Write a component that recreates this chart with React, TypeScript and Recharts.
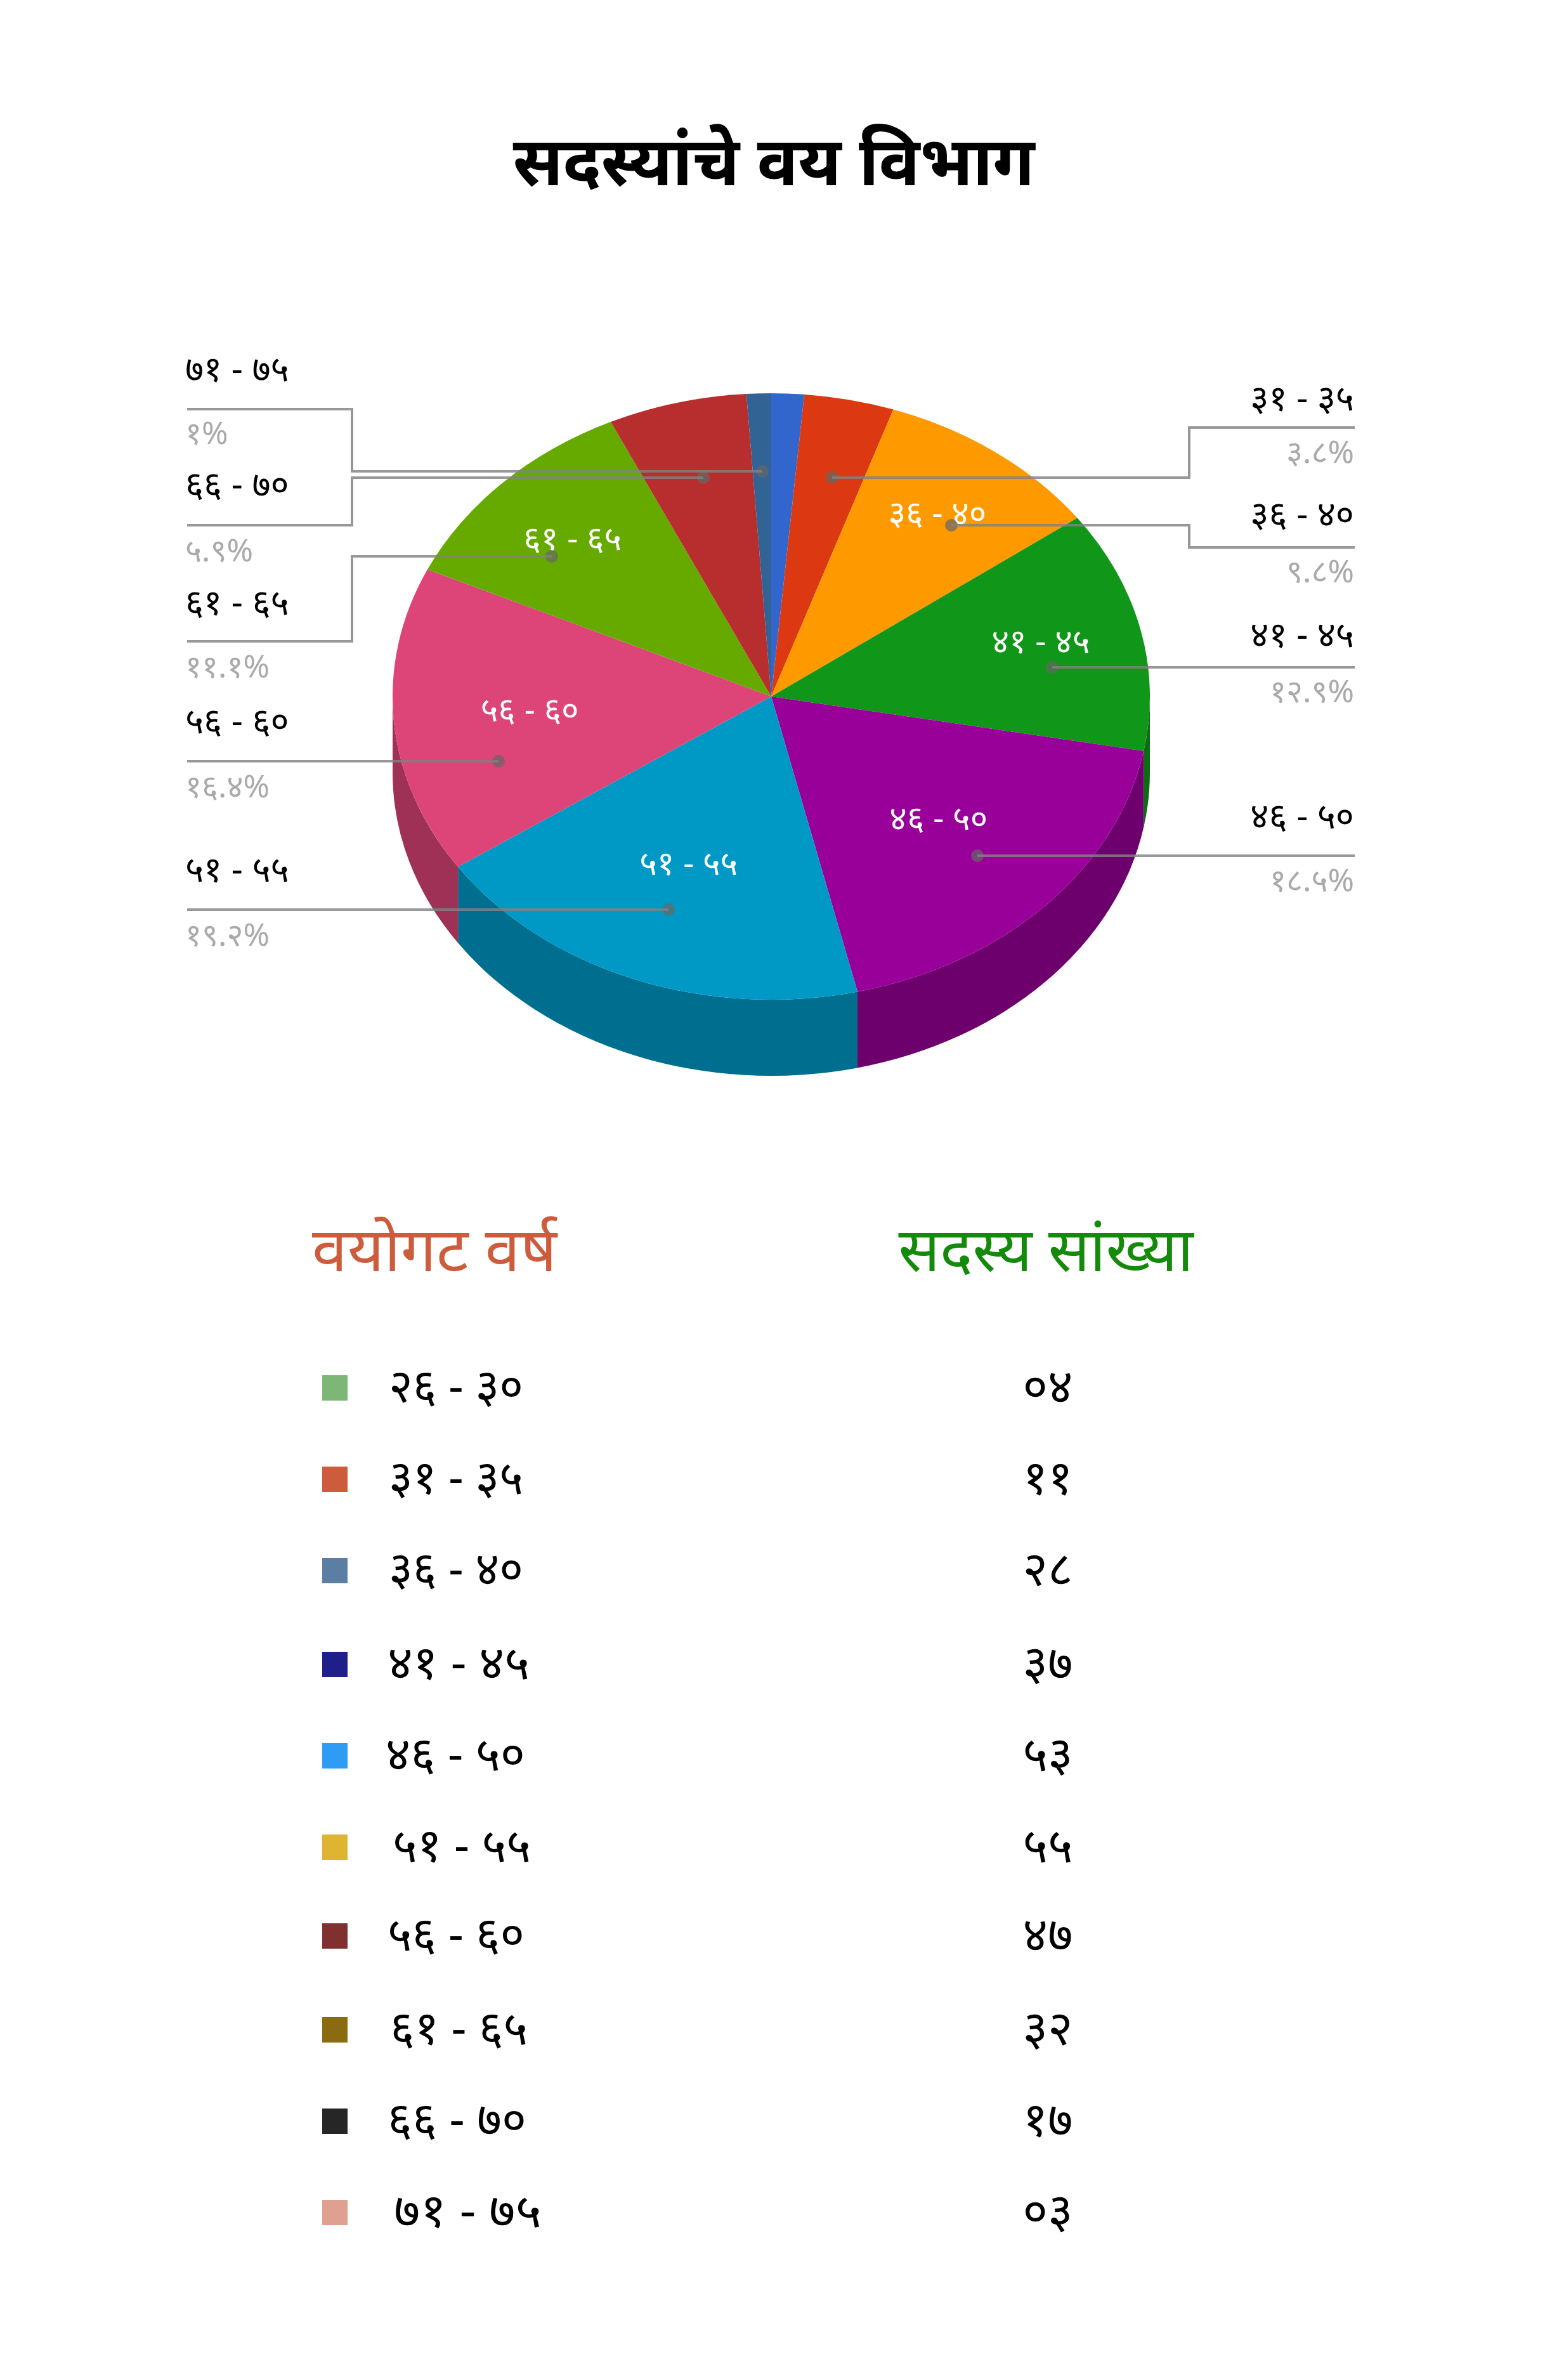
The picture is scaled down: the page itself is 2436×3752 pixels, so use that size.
import { PieChart, Pie, Cell } from 'recharts';

const W = 2436;
const H = 3752;

const ageGroups = ['२६ - ३०', '३१ - ३५', '३६ - ४०', '४१ - ४५', '४६ - ५०', '५१ - ५५', '५६ - ६०', '६१ - ६५', '६६ - ७०', '७१ - ७५'];
const memberCounts = [4, 11, 28, 37, 53, 55, 47, 32, 17, 3];
const countLabels = ['०४', '११', '२८', '३७', '५३', '५५', '४७', '३२', '१७', '०३'];
const sliceColors = ['#3366cc', '#dc3912', '#ff9900', '#109618', '#990099', '#0099c6', '#dd4477', '#66aa00', '#b82e2e', '#316395'];
const swatchColors = ['#7cb776', '#cc5c3c', '#5b7fa3', '#1f1f8a', '#2e9bf5', '#deb433', '#80312f', '#8a6b0f', '#262626', '#dfa08f'];

const pieData = ageGroups.map((name, i) => ({ name, value: memberCounts[i] }));

const CX = 1216;
const CY = 1098;
const RX = 597;
const RY = 478;
const DEPTH = 120;

const darken = (hex: string, f = 0.72) => {
  const n = parseInt(hex.slice(1), 16);
  const c = [(n >> 16) & 255, (n >> 8) & 255, n & 255].map(v => Math.round(v * f));
  return `rgb(${c.join(',')})`;
};

const ex = (deg: number) => CX + RX * Math.cos((deg * Math.PI) / 180);
const ey = (deg: number) => CY - RY * Math.sin((deg * Math.PI) / 180);

// flattened slice with its side wall
function TiltedSlice(props: any) {
  const { startAngle, endAngle, fill } = props;
  const a0 = Math.max(startAngle, endAngle);
  const a1 = Math.min(startAngle, endAngle);
  const large = a0 - a1 > 180 ? 1 : 0;
  const top = `M${CX},${CY}L${ex(a0)},${ey(a0)}A${RX},${RY} 0 ${large} 1 ${ex(a1)},${ey(a1)}Z`;
  // wall only for the front half of the rim
  const walls: string[] = [];
  [[0, -180], [-360, -540], [360, 180]].forEach(([hi, lo]) => {
    const s = Math.min(a0, hi);
    const e = Math.max(a1, lo);
    if (s > e) {
      const l = s - e > 180 ? 1 : 0;
      walls.push(
        `M${ex(s)},${ey(s)}A${RX},${RY} 0 ${l} 1 ${ex(e)},${ey(e)}L${ex(e)},${ey(e) + DEPTH}A${RX},${RY} 0 ${l} 0 ${ex(s)},${ey(s) + DEPTH}Z`
      );
    }
  });
  return (
    <g>
      {walls.map((d, i) => <path key={i} d={d} fill={darken(fill)} />)}
      <path d={top} fill={fill} />
    </g>
  );
}

const labelRadius = [0, 0, 0.74, 0.73, 0.61, 0.6, 0.64, 0.74, 0, 0];
const labelNudgeY = [0, 0, -7, -12, -12, -7, -7, -2, 0, 0];

const devDigits = '०१२३४५६७८९';
const toDev = (s: string) => s.replace(/\d/g, d => devDigits[+d]);
const total = memberCounts.reduce((a, b) => a + b, 0);
const pctLabel = (v: number) => toDev(`${+((v / total) * 100).toFixed(1)}%`);

const LEFT_EDGE = 295;
const RIGHT_EDGE = 2136;
const font = "'Noto Sans', 'Noto Sans CJK SC', sans-serif";

// callout layout per slice index
const callouts: Record<number, any> = {
  9: { dot: [1202, 743], elbow: 555, edge: 645, side: 'L', labelY: 579, pctY: 681 },
  8: { dot: [1109, 753], elbow: 555, edge: 828, side: 'L', labelY: 761, pctY: 866 },
  7: { dot: [870, 877], elbow: 555, edge: 1011, side: 'L', labelY: 947, pctY: 1049 },
  6: { dot: [786, 1200], elbow: 0, edge: 1200, side: 'L', labelY: 1134, pctY: 1238 },
  5: { dot: [1054, 1434], elbow: 0, edge: 1434, side: 'L', labelY: 1368, pctY: 1472 },
  1: { dot: [1312, 753], elbow: 1875, edge: 674, side: 'R', labelY: 625, pctY: 711 },
  2: { dot: [1500, 828], elbow: 1875, edge: 863, side: 'R', labelY: 808, pctY: 899 },
  3: { dot: [1659, 1052], elbow: 0, edge: 1052, side: 'R', labelY: 998, pctY: 1088 },
  4: { dot: [1541, 1349], elbow: 0, edge: 1349, side: 'R', labelY: 1284, pctY: 1386 },
};

// Pie draws its labels above the slices, so the callouts go here too
function SliceLabel(props: any) {
  const { midAngle, index, name } = props;
  const r = labelRadius[index];
  const c = callouts[index];
  const rad = (midAngle * Math.PI) / 180;
  const outer = c?.side === 'L' ? LEFT_EDGE : RIGHT_EDGE;
  const anchor = c?.side === 'L' ? 'start' : 'end';
  const textX = c?.side === 'L' ? LEFT_EDGE - 3 : RIGHT_EDGE - 1;
  return (
    <g>
      {r ? (
        <text x={CX + RX * r * Math.cos(rad)} y={CY + labelNudgeY[index] - RY * r * Math.sin(rad)} textAnchor="middle" dominantBaseline="central"
          fontSize={53} fill="#fff" fontFamily={font} stroke="none">
          {name}
        </text>
      ) : null}
      {c ? (
        <g>
          <circle cx={c.dot[0]} cy={c.dot[1]} r={10} fill="#666" fillOpacity={0.7} stroke="none" />
          <polyline
            points={c.elbow
              ? `${c.dot[0]},${c.dot[1]} ${c.elbow},${c.dot[1]} ${c.elbow},${c.edge} ${outer},${c.edge}`
              : `${c.dot[0]},${c.dot[1]} ${outer},${c.dot[1]}`}
            fill="none" stroke="#818181" strokeOpacity={0.82} strokeWidth={4} />
          <text x={textX} y={c.labelY} textAnchor={anchor} dominantBaseline="central" fontSize={56} fontFamily={font} fill="#000" stroke="none">{name}</text>
          <text x={textX} y={c.pctY} textAnchor={anchor} dominantBaseline="central" fontSize={50} fontFamily={font} fill="#aaa" stroke="none">{pctLabel(memberCounts[index])}</text>
        </g>
      ) : null}
    </g>
  );
}

const rowY = [2188, 2332, 2476, 2624, 2768, 2912, 3052, 3200, 3344, 3488];
const rowTextX = [613, 613, 613, 611, 608, 619, 611, 615, 611, 621];
const rowTextW = [212, 212, 212, 224, 220, 218, 216, 217, 219, 233];

export default function App() {
  return (
    <div style={{ position: 'absolute', left: 0, top: 0, width: W, height: H, background: '#fff', overflow: 'hidden' }}>
      <PieChart width={W} height={H} margin={{ top: 0, right: 0, bottom: 0, left: 0 }}>
        <text x={1220} y={250} textAnchor="middle" dominantBaseline="central" fontSize={107} fontWeight={700} fontFamily={font} fill="#000">
          सदस्यांचे वय विभाग
        </text>
        <Pie data={pieData} dataKey="value" nameKey="name" cx={CX} cy={CY} outerRadius={RX} startAngle={90} endAngle={-270}
          stroke="none" isAnimationActive={false} inactiveShape={TiltedSlice} shape={TiltedSlice}
          label={SliceLabel} labelLine={false}>
          {pieData.map((d, i) => <Cell key={d.name} fill={sliceColors[i]} />)}
        </Pie>
        <text x={685} y={1966} textAnchor="middle" dominantBaseline="central" fontSize={96} textLength={386} lengthAdjust="spacingAndGlyphs" fontFamily={font} fill="#cc5c3c">वयोगट वर्ष</text>
        <text x={1649} y={1966} textAnchor="middle" dominantBaseline="central" fontSize={96} textLength={465} lengthAdjust="spacingAndGlyphs" fontFamily={font} fill="#148a0a">सदस्य सांख्या</text>
        {ageGroups.map((g, i) => (
          <g key={g}>
            <rect x={508} y={rowY[i] - 20} width={40} height={40} fill={swatchColors[i]} />
            <text x={rowTextX[i]} y={rowY[i] - 6} dominantBaseline="central" fontSize={74} textLength={rowTextW[i]} lengthAdjust="spacingAndGlyphs" fontFamily={font} fill="#000">{g}</text>
            <text x={1652} y={rowY[i] - 6} textAnchor="middle" dominantBaseline="central" fontSize={76} fontFamily={font} fill="#000">{countLabels[i]}</text>
          </g>
        ))}
      </PieChart>
    </div>
  );
}
